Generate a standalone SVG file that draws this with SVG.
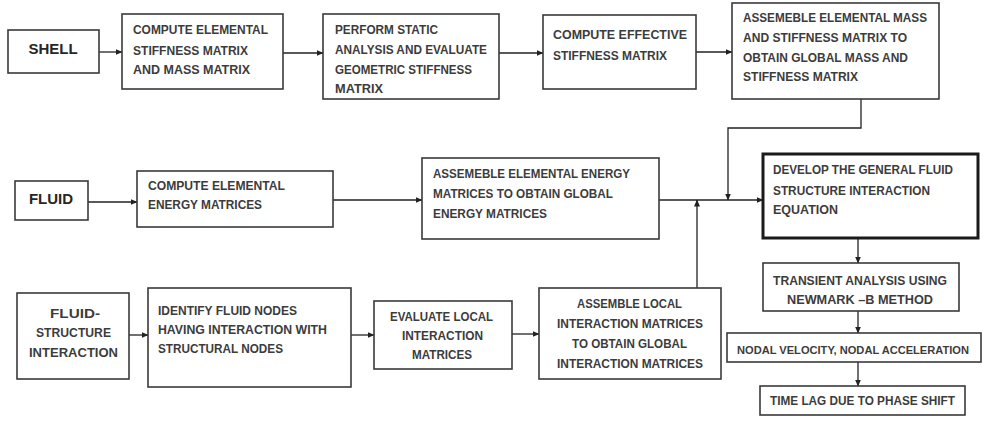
<svg xmlns="http://www.w3.org/2000/svg" width="983" height="421" viewBox="0 0 983 421">
<defs>
<marker id="ah" markerWidth="7" markerHeight="6" refX="6.5" refY="3" orient="auto" markerUnits="userSpaceOnUse">
<path d="M0,0 L7,3 L0,6 Z" fill="#222"/>
</marker>
<style>
.b{fill:#fff;stroke:#3a3a3a;stroke-width:1.6}
.bt{fill:#fff;stroke:#1a1a1a;stroke-width:3}
.t{font-family:"Liberation Sans",Arial,sans-serif;font-weight:bold;font-size:12.5px;fill:#3c3c3c}
.h{font-family:"Liberation Sans",Arial,sans-serif;font-weight:bold;font-size:15px;fill:#262626}
.c{fill:none;stroke:#222;stroke-width:1.3}
</style>
</defs>
<rect width="983" height="421" fill="#fff"/>
<g id="connectors">
<line class="c" x1="99" y1="52" x2="122" y2="52" marker-end="url(#ah)"/>
<line class="c" x1="283" y1="53" x2="323" y2="53" marker-end="url(#ah)"/>
<line class="c" x1="499" y1="53" x2="543" y2="53" marker-end="url(#ah)"/>
<line class="c" x1="696" y1="52" x2="732" y2="52" marker-end="url(#ah)"/>
<polyline class="c" points="861,99 861,128 728,128 728,200" marker-end="url(#ah)"/>
<line class="c" x1="88" y1="202" x2="137" y2="202" marker-end="url(#ah)"/>
<line class="c" x1="333" y1="200" x2="422" y2="200" marker-end="url(#ah)"/>
<line class="c" x1="659" y1="200" x2="763" y2="200" marker-end="url(#ah)"/>
<line class="c" x1="697" y1="288" x2="697" y2="200" marker-end="url(#ah)"/>
<line class="c" x1="858" y1="238" x2="858" y2="263" marker-end="url(#ah)"/>
<line class="c" x1="858" y1="311" x2="858" y2="333" marker-end="url(#ah)"/>
<line class="c" x1="858" y1="362" x2="858" y2="386" marker-end="url(#ah)"/>
<line class="c" x1="129" y1="335" x2="148" y2="335" marker-end="url(#ah)"/>
<line class="c" x1="351" y1="335" x2="374" y2="335" marker-end="url(#ah)"/>
<line class="c" x1="512" y1="334" x2="539" y2="334" marker-end="url(#ah)"/>
</g>
<g id="shell">
<rect class="b" x="8" y="30" width="91" height="43"/>
<text class="h" x="53" y="53.5" text-anchor="middle">SHELL</text>
</g>
<g id="compute-stiffness">
<rect class="b" x="122" y="14" width="161" height="75"/>
<text class="t" x="133" y="33.5" textLength="135" lengthAdjust="spacingAndGlyphs">COMPUTE ELEMENTAL</text>
<text class="t" x="133" y="54.5" textLength="115" lengthAdjust="spacingAndGlyphs">STIFFNESS MATRIX</text>
<text class="t" x="133" y="73.5" textLength="117" lengthAdjust="spacingAndGlyphs">AND MASS MATRIX</text>
</g>
<g id="static-analysis">
<rect class="b" x="323" y="14" width="176" height="85"/>
<text class="t" x="335" y="33.5" textLength="103" lengthAdjust="spacingAndGlyphs">PERFORM STATIC</text>
<text class="t" x="335" y="53.5" textLength="152" lengthAdjust="spacingAndGlyphs">ANALYSIS AND EVALUATE</text>
<text class="t" x="335" y="73.5" textLength="137" lengthAdjust="spacingAndGlyphs">GEOMETRIC STIFFNESS</text>
<text class="t" x="335" y="92.5" textLength="48" lengthAdjust="spacingAndGlyphs">MATRIX</text>
</g>
<g id="effective-stiffness">
<rect class="b" x="543" y="15" width="153" height="74"/>
<text class="t" x="553" y="38.5" textLength="134" lengthAdjust="spacingAndGlyphs">COMPUTE EFFECTIVE</text>
<text class="t" x="553" y="59.5" textLength="114" lengthAdjust="spacingAndGlyphs">STIFFNESS MATRIX</text>
</g>
<g id="assemble-mass">
<rect class="b" x="732" y="3" width="207" height="96"/>
<text class="t" x="743" y="21.5" textLength="184" lengthAdjust="spacingAndGlyphs">ASSEMEBLE ELEMENTAL MASS</text>
<text class="t" x="743" y="41.5" textLength="164" lengthAdjust="spacingAndGlyphs">AND STIFFNESS MATRIX TO</text>
<text class="t" x="743" y="61.5" textLength="165" lengthAdjust="spacingAndGlyphs">OBTAIN GLOBAL MASS AND</text>
<text class="t" x="743" y="80.5" textLength="115" lengthAdjust="spacingAndGlyphs">STIFFNESS MATRIX</text>
</g>
<g id="fluid">
<rect class="b" x="15" y="181" width="73" height="39"/>
<text class="h" x="51" y="203.5" text-anchor="middle">FLUID</text>
</g>
<g id="compute-energy">
<rect class="b" x="137" y="171" width="196" height="56"/>
<text class="t" x="148" y="189.5" textLength="137" lengthAdjust="spacingAndGlyphs">COMPUTE ELEMENTAL</text>
<text class="t" x="148" y="208.5" textLength="114" lengthAdjust="spacingAndGlyphs">ENERGY MATRICES</text>
</g>
<g id="assemble-energy">
<rect class="b" x="422" y="158" width="237" height="81"/>
<text class="t" x="433" y="177.5" textLength="197" lengthAdjust="spacingAndGlyphs">ASSEMEBLE ELEMENTAL ENERGY</text>
<text class="t" x="433" y="197.5" textLength="180" lengthAdjust="spacingAndGlyphs">MATRICES TO OBTAIN GLOBAL</text>
<text class="t" x="433" y="217.5" textLength="114" lengthAdjust="spacingAndGlyphs">ENERGY MATRICES</text>
</g>
<g id="develop-equation">
<rect class="bt" x="763" y="154" width="215" height="84"/>
<text class="t" x="773" y="173.5" textLength="180" lengthAdjust="spacingAndGlyphs">DEVELOP THE GENERAL FLUID</text>
<text class="t" x="773" y="194.5" textLength="157" lengthAdjust="spacingAndGlyphs">STRUCTURE INTERACTION</text>
<text class="t" x="773" y="213.5" textLength="65" lengthAdjust="spacingAndGlyphs">EQUATION</text>
</g>
<g id="transient-analysis">
<rect class="b" x="763" y="263" width="196" height="48"/>
<text class="t" x="773" y="284.5" textLength="174" lengthAdjust="spacingAndGlyphs">TRANSIENT ANALYSIS USING</text>
<text class="t" x="787" y="303.5" textLength="146" lengthAdjust="spacingAndGlyphs">NEWMARK –B METHOD</text>
</g>
<g id="nodal-velocity">
<rect class="b" x="727" y="333" width="254" height="29"/>
<text class="t" x="737" y="354" style="font-size:11.1px">NODAL VELOCITY, NODAL ACCELERATION</text>
</g>
<g id="time-lag">
<rect class="b" x="760" y="386" width="205" height="29"/>
<text class="t" x="770" y="404.5" textLength="185" lengthAdjust="spacingAndGlyphs">TIME LAG DUE TO PHASE SHIFT</text>
</g>
<g id="fsi">
<rect class="b" x="17" y="293" width="112" height="86"/>
<text class="t" x="50" y="317.5" textLength="50" lengthAdjust="spacingAndGlyphs">FLUID-</text>
<text class="t" x="36" y="336.5" textLength="75" lengthAdjust="spacingAndGlyphs">STRUCTURE</text>
<text class="t" x="29" y="356.5" textLength="89" lengthAdjust="spacingAndGlyphs">INTERACTION</text>
</g>
<g id="identify-nodes">
<rect class="b" x="148" y="288" width="203" height="99"/>
<text class="t" x="158" y="314.5" textLength="139" lengthAdjust="spacingAndGlyphs">IDENTIFY FLUID NODES</text>
<text class="t" x="158" y="333.5" textLength="169" lengthAdjust="spacingAndGlyphs">HAVING INTERACTION WITH</text>
<text class="t" x="158" y="352.5" textLength="125" lengthAdjust="spacingAndGlyphs">STRUCTURAL NODES</text>
</g>
<g id="evaluate-local">
<rect class="b" x="374" y="301" width="138" height="68"/>
<text class="t" x="390" y="320.5" textLength="103" lengthAdjust="spacingAndGlyphs">EVALUATE LOCAL</text>
<text class="t" x="402" y="339.5" textLength="81" lengthAdjust="spacingAndGlyphs">INTERACTION</text>
<text class="t" x="412" y="358.5" textLength="60" lengthAdjust="spacingAndGlyphs">MATRICES</text>
</g>
<g id="assemble-local">
<rect class="b" x="539" y="288" width="182" height="91"/>
<text class="t" x="577" y="307.5" textLength="105" lengthAdjust="spacingAndGlyphs">ASSEMBLE LOCAL</text>
<text class="t" x="557" y="327.5" textLength="146" lengthAdjust="spacingAndGlyphs">INTERACTION MATRICES</text>
<text class="t" x="572" y="347.5" textLength="115" lengthAdjust="spacingAndGlyphs">TO OBTAIN GLOBAL</text>
<text class="t" x="557" y="367.5" textLength="146" lengthAdjust="spacingAndGlyphs">INTERACTION MATRICES</text>
</g>
</svg>
